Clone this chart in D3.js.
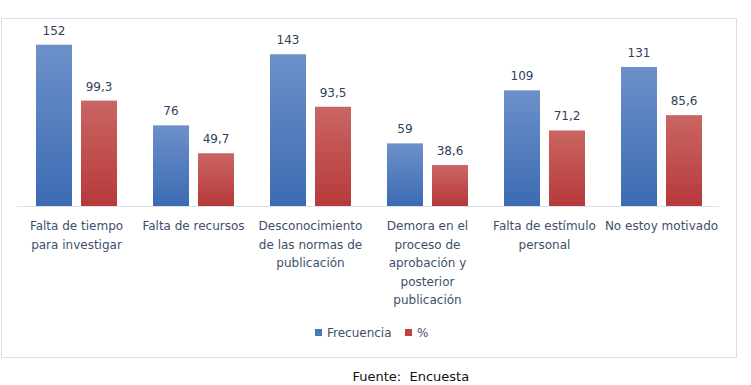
<!DOCTYPE html>
<html>
<head>
<meta charset="utf-8">
<script src="https://cdn.jsdelivr.net/npm/d3@7"></script>
<style>
  html, body { margin: 0; padding: 0; background: #fff; }
  svg { display: block; font-family: "DejaVu Sans", Verdana, sans-serif; }
</style>
</head>
<body>
<svg id="chart" width="751" height="385"></svg>
<script>
const categories = [
  "Falta de tiempo para investigar",
  "Falta de recursos",
  "Desconocimiento de las normas de publicación",
  "Demora en el proceso de aprobación y posterior publicación",
  "Falta de estímulo personal",
  "No estoy motivado"
];
const tickLabels = [
  ["Falta de tiempo", "para investigar"],
  ["Falta de recursos"],
  ["Desconocimiento", "de las normas de", "publicación"],
  ["Demora en el", "proceso de", "aprobación y", "posterior", "publicación"],
  ["Falta de estímulo", "personal"],
  ["No estoy motivado"]
];
const seriesNames = ["Frecuencia", "%"];
const frecuencia = [152, 76, 143, 59, 109, 131];
const porcentaje = [99.3, 49.7, 93.5, 38.6, 71.2, 85.6];
const porcentajeLabels = ["99,3", "49,7", "93,5", "38,6", "71,2", "85,6"];
const source = "Fuente: Encuesta";

const svg = d3.select("#chart");
const defs = svg.append("defs");
function grad(id, top, bottom) {
  const g = defs.append("linearGradient").attr("id", id)
    .attr("x1", 0).attr("y1", 0).attr("x2", 0).attr("y2", 1);
  g.append("stop").attr("offset", "0%").attr("stop-color", top);
  g.append("stop").attr("offset", "100%").attr("stop-color", bottom);
}
grad("gBlue", "#6d90c9", "#3c6bb3");
grad("gRed", "#c96663", "#b7393a");
const fills = ["url(#gBlue)", "url(#gRed)"];
const legendColors = ["#4a76bb", "#c0413f"];

// chart border
svg.append("rect").attr("x", 1.5).attr("y", 18.5).attr("width", 735).attr("height", 339)
  .attr("fill", "#fff").attr("stroke", "#d5dfe9").attr("stroke-width", 1);

const x0 = d3.scaleBand().domain(categories).range([17, 719]).padding(0);
const x1 = d3.scaleBand().domain(seriesNames).range([19, 100]).paddingInner(0.2).paddingOuter(0);
const y = d3.scaleLinear().domain([0, 160]).range([206, 36.2]);

const rows = categories.map((c, i) => ({
  cat: c, i,
  vals: [
    { s: seriesNames[0], v: frecuencia[i], label: String(frecuencia[i]) },
    { s: seriesNames[1], v: porcentaje[i], label: porcentajeLabels[i] }
  ]
}));

const groups = svg.append("g").selectAll("g").data(rows).join("g")
  .attr("transform", d => `translate(${x0(d.cat)},0)`);

groups.selectAll("rect").data(d => d.vals).join("rect")
  .attr("x", d => x1(d.s))
  .attr("y", d => y(d.v))
  .attr("width", x1.bandwidth())
  .attr("height", d => y(0) - y(d.v))
  .attr("fill", (d, j) => fills[j]);

groups.selectAll("text.val").data(d => d.vals).join("text")
  .attr("class", "val")
  .attr("x", d => x1(d.s) + x1.bandwidth() / 2)
  .attr("y", d => y(d.v) - 10)
  .attr("text-anchor", "middle")
  .attr("font-size", 12)
  .attr("fill", "#2f3f5c")
  .text(d => d.label);

// axis baseline
svg.append("line").attr("x1", 17).attr("x2", 719).attr("y1", 206.5).attr("y2", 206.5)
  .attr("stroke", "#d9e1ea").attr("stroke-width", 1);

// category labels
const catG = svg.append("g");
categories.forEach((c, i) => {
  const cx = x0(c) + x0.bandwidth() / 2 + 1;
  const t = catG.append("text")
    .attr("x", cx)
    .attr("y", 230)
    .attr("text-anchor", "middle")
    .attr("font-size", 12)
    .attr("fill", "#3e4f6b");
  tickLabels[i].forEach((line, k) => {
    t.append("tspan").attr("x", cx).attr("y", 230 + k * 18.5).text(line);
  });
});

// legend
const legendItems = [
  { name: seriesNames[0], x: 315, tx: 327 },
  { name: seriesNames[1], x: 405, tx: 417 }
];
const lg = svg.append("g");
legendItems.forEach((d, j) => {
  lg.append("rect").attr("x", d.x).attr("y", 329).attr("width", 7).attr("height", 7).attr("fill", legendColors[j]);
  lg.append("text").attr("x", d.tx).attr("y", 337).attr("font-size", 12).attr("fill", "#3e4f6b").text(d.name);
});

// source
svg.append("text").attr("x", 352.5).attr("y", 380.5).attr("font-size", 13).attr("fill", "#111")
  .attr("xml:space", "preserve")
  .text(source.replace(": ", ":\u00a0 "));
</script>
</body>
</html>
